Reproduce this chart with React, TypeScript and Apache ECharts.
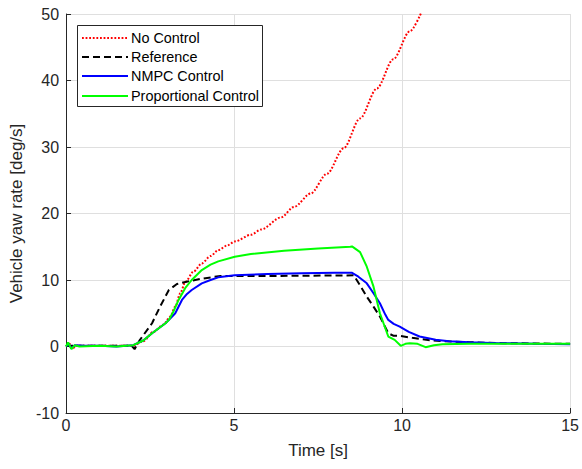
import React, { useEffect, useRef } from "react";
import * as echarts from "echarts";

const xTicks = [0, 5, 10, 15];
const yTicks = [-10, 0, 10, 20, 30, 40, 50];

const noControl: [number, number][] = [
  [0, 0], [0.1, 0.4], [0.2, -0.3], [0.3, 0.1], [1, 0.1], [2, 0.1], [2.3, 0.8], [2.6, 2.2], [2.9, 3.3],
  [3.1, 4.5], [3.25, 6.0], [3.4, 8.0], [3.55, 9.7], [3.8, 11.3], [4.04, 12.5], [4.3, 13.6], [4.53, 14.5],
  [4.8, 15.2], [5.02, 15.8], [5.5, 16.8], [5.81, 17.6], [6.39, 19.4], [6.79, 21.0], [7.28, 23.0],
  [7.77, 26.0], [8.26, 29.8], [8.75, 34.3], [9.25, 38.8], [9.74, 43.2], [10.23, 47.4], [10.57, 50.2],
];

const reference: [number, number][] = [
  [0, 0.1], [1.0, 0.1], [1.95, 0.1], [2.04, -0.4], [2.2, 1.0], [2.56, 3.5], [2.8, 6.0], [3.06, 8.5],
  [3.3, 9.4], [3.55, 9.7], [4.04, 10.2], [4.6, 10.6], [6, 10.6], [8.56, 10.7], [8.75, 9.2], [8.95, 7.5],
  [9.15, 6.0], [9.34, 4.5], [9.59, 2.0], [9.75, 1.6], [9.93, 1.6], [10.3, 1.3], [10.72, 1.0], [11.2, 0.8],
  [12, 0.65], [13, 0.5], [15, 0.4],
];

const nmpc: [number, number][] = [
  [0, 0], [0.08, 0.4], [0.16, -0.3], [0.26, 0.2], [0.5, 0.1], [1.0, 0.1], [1.5, 0.0], [2.0, 0.2],
  [2.3, 0.9], [2.56, 2.0], [2.96, 3.5], [3.1, 4.2], [3.25, 5.0], [3.45, 7.0], [3.6, 7.9], [3.74, 8.5],
  [4.04, 9.5], [4.3, 10.0], [4.53, 10.4], [5.02, 10.7], [6, 10.9], [7, 11.0], [8.0, 11.1], [8.5, 11.1],
  [8.7, 10.5], [8.95, 9.5], [9.15, 8.0], [9.34, 6.5], [9.5, 4.8], [9.59, 4.0], [9.75, 3.4], [9.93, 3.0],
  [10.2, 2.2], [10.52, 1.5], [11.0, 1.0], [11.4, 0.8], [12.0, 0.65], [12.88, 0.5], [14, 0.4], [15, 0.35],
];

const proportional: [number, number][] = [
  [0, 0], [0.06, 0.6], [0.16, -0.4], [0.26, 0.2], [0.4, 0.0], [1.0, 0.1], [1.5, 0.0], [2.0, 0.2],
  [2.3, 0.9], [2.56, 2.0], [2.96, 3.5], [3.06, 4.0], [3.2, 5.3], [3.35, 7.0], [3.55, 8.8], [3.74, 10.0],
  [4.04, 11.5], [4.3, 12.3], [4.53, 12.8], [5.02, 13.5], [5.5, 13.9], [6.49, 14.4], [7.5, 14.75],
  [8.46, 15.0], [8.51, 15.05], [8.75, 14.2], [8.95, 12.0], [9.15, 9.0], [9.34, 5.0], [9.59, 1.5],
  [9.78, 1.0], [9.96, 0.1], [10.1, 0.4], [10.23, 0.5], [10.46, 0.4], [10.7, -0.1], [10.95, 0.2],
  [11.2, 0.35], [12, 0.4], [15, 0.4],
];

const seriesNames = ["No Control", "Reference", "NMPC Control", "Proportional Control"];
const seriesColors = ["#ff0000", "#000000", "#0000ff", "#00ff00"];
const seriesDash: (number[] | null)[] = [[1.8, 1.8], [7, 4], null, null];

const FONT = "Arial, 'Liberation Sans', Helvetica, sans-serif";

export default function App() {
  const ref = useRef<HTMLDivElement>(null);
  useEffect(() => {
    if (!ref.current) return;
    const chart = echarts.init(ref.current, undefined, { renderer: "svg" });
    const axisCommon = {
      axisLine: { show: true, onZero: false, lineStyle: { color: "#262626", width: 1 } },
      axisTick: { show: true, inside: true, length: 5, lineStyle: { color: "#262626" } },
      splitLine: { show: true, lineStyle: { color: "#dfdfdf", width: 1 } },
      nameTextStyle: { color: "#262626", fontSize: 17, fontFamily: FONT },
    };
    const datasets = [noControl, reference, nmpc, proportional];

    const legendX = 77, legendY = 25, legendW = 185, legendH = 81;
    const rowY = [38, 57, 76, 96];
    const legendEls: any[] = [
      {
        type: "rect",
        shape: { x: legendX + 0.5, y: legendY + 0.5, width: legendW, height: legendH },
        style: { fill: "#ffffff", stroke: "#262626", lineWidth: 1 },
        z: 100,
      },
    ];
    seriesNames.forEach((n, i) => {
      legendEls.push({
        type: "line",
        shape: { x1: 82, y1: rowY[i], x2: 128, y2: rowY[i] },
        style: {
          stroke: seriesColors[i],
          lineWidth: 2,
          lineDash: seriesDash[i] || undefined,
        },
        z: 101,
      });
      legendEls.push({
        type: "text",
        x: 131,
        y: rowY[i],
        style: {
          text: n,
          fill: "#000000",
          font: `14.4px ${FONT}`,
          textVerticalAlign: "middle",
          verticalAlign: "middle",
        },
        z: 101,
      });
    });

    chart.setOption({
      animation: false,
      backgroundColor: "#ffffff",
      textStyle: { fontFamily: FONT },
      grid: { left: 63, right: 10, top: 14, bottom: 56 },
      xAxis: {
        type: "value",
        min: xTicks[0],
        max: xTicks[xTicks.length - 1],
        interval: 5,
        name: "Time [s]",
        nameLocation: "middle",
        nameGap: 29,
        ...axisCommon,
        axisLabel: { color: "#262626", fontSize: 16, margin: 4, fontFamily: FONT },
      },
      yAxis: {
        type: "value",
        min: yTicks[0],
        max: yTicks[yTicks.length - 1],
        interval: 10,
        name: "Vehicle yaw rate [deg/s]",
        nameLocation: "middle",
        nameGap: 32,
        ...axisCommon,
        axisLabel: { color: "#262626", fontSize: 16, margin: 7, fontFamily: FONT },
      },
      graphic: legendEls,
      series: seriesNames.map((n, i) => ({
        name: n,
        type: "line",
        data: datasets[i],
        symbol: "none",
        smooth: i === 0 ? 0.3 : false,
        smoothMonotone: i === 0 ? "x" : undefined,
        lineStyle: { color: seriesColors[i], width: 2, type: seriesDash[i] || "solid" },
        itemStyle: { color: seriesColors[i] },
      })),
    });
    return () => chart.dispose();
  }, []);
  return (
    <div
      ref={ref}
      style={{ position: "fixed", left: 0, top: 0, width: 582, height: 469 }}
    />
  );
}
